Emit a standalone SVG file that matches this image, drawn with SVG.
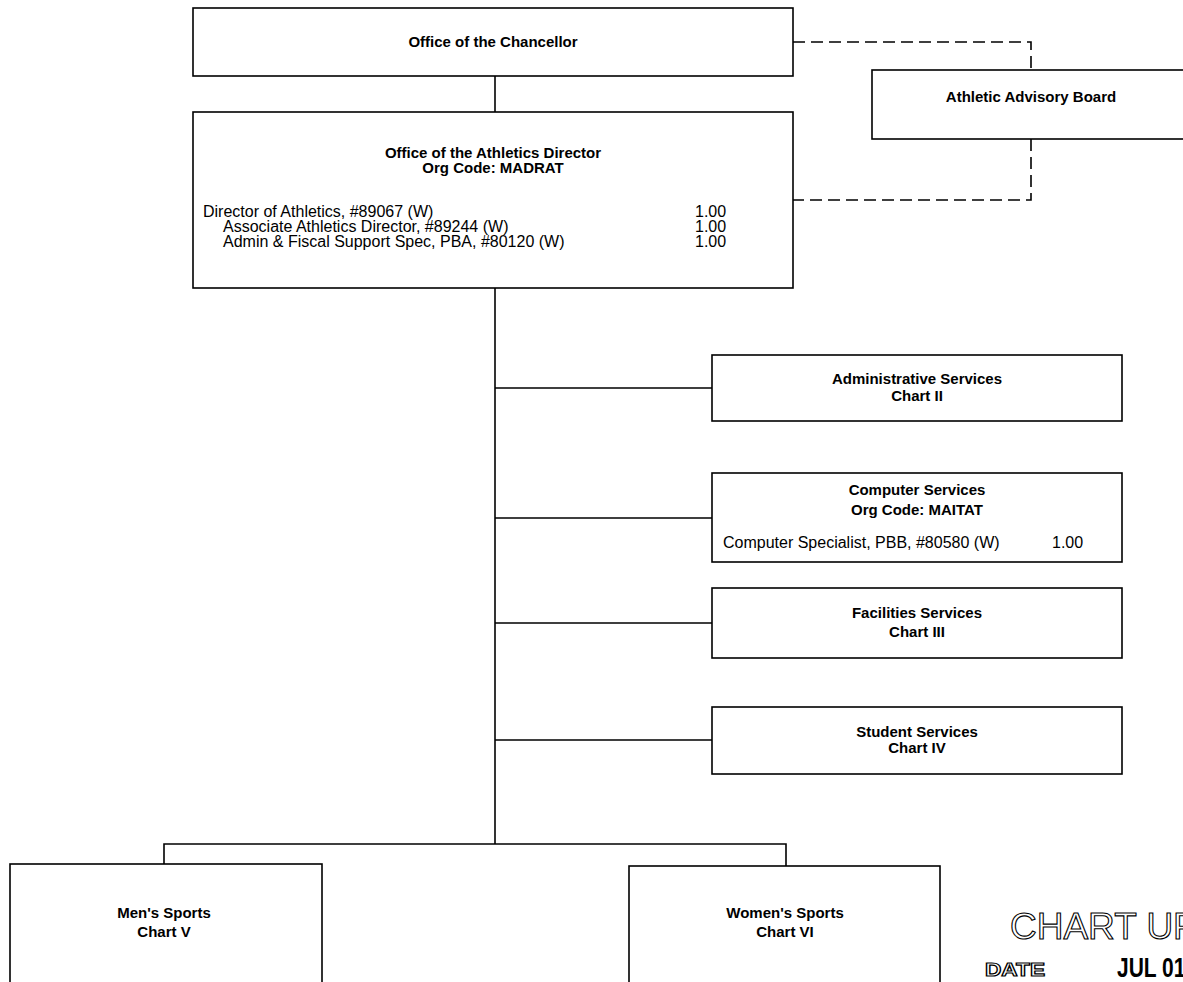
<svg xmlns="http://www.w3.org/2000/svg" width="1183" height="982" viewBox="0 0 1183 982">
<style>
.box{fill:#fff;stroke:#000;stroke-width:1.6}
.t{font-family:"Liberation Sans",Arial,sans-serif;font-size:15px;font-weight:bold;fill:#000;text-anchor:middle}
.l{font-family:"Liberation Sans",Arial,sans-serif;font-size:16px;fill:#000}
.ln{fill:none;stroke:#000;stroke-width:1.6}
.dash{fill:none;stroke:#000;stroke-width:1.6;stroke-dasharray:12 6}
.stamp{font-family:"Liberation Sans",Arial,sans-serif}
</style>
<rect width="1183" height="982" fill="#fff"/>
<g id="connectors">
<path class="ln" d="M495,76 V112"/>
<path class="ln" d="M495,288 V844"/>
<path class="ln" d="M495,388 H712 M495,518 H712 M495,623 H712 M495,740 H712"/>
<path class="ln" d="M164,864 V844 H786 V866"/>
<path class="dash" d="M793,42 H1031 V70"/>
<path class="dash" d="M1031,139 V200 H793"/>
</g>
<g id="chancellor">
<rect class="box" x="193" y="8" width="600" height="68"/>
<text class="t" x="493" y="47">Office of the Chancellor</text>
</g>
<g id="director">
<rect class="box" x="193" y="112" width="600" height="176"/>
<text class="t" x="493" y="158">Office of the Athletics Director</text>
<text class="t" x="493" y="173">Org Code: MADRAT</text>
<text class="l" x="203" y="217">Director of Athletics, #89067 (W)</text>
<text class="l" x="223" y="232">Associate Athletics Director, #89244 (W)</text>
<text class="l" x="223" y="247">Admin &amp; Fiscal Support Spec, PBA, #80120 (W)</text>
<text class="l" x="695" y="217">1.00</text>
<text class="l" x="695" y="232">1.00</text>
<text class="l" x="695" y="247">1.00</text>
</g>
<g id="advisory">
<rect class="box" x="872" y="70" width="320" height="69"/>
<text class="t" x="1031" y="102">Athletic Advisory Board</text>
</g>
<g id="admin">
<rect class="box" x="712" y="355" width="410" height="66"/>
<text class="t" x="917" y="384">Administrative Services</text>
<text class="t" x="917" y="401">Chart II</text>
</g>
<g id="computer">
<rect class="box" x="712" y="473" width="410" height="89"/>
<text class="t" x="917" y="495">Computer Services</text>
<text class="t" x="917" y="515">Org Code: MAITAT</text>
<text class="l" x="723" y="548">Computer Specialist, PBB, #80580 (W)</text>
<text class="l" x="1052" y="548">1.00</text>
</g>
<g id="facilities">
<rect class="box" x="712" y="588" width="410" height="70"/>
<text class="t" x="917" y="618">Facilities Services</text>
<text class="t" x="917" y="637">Chart III</text>
</g>
<g id="student">
<rect class="box" x="712" y="707" width="410" height="67"/>
<text class="t" x="917" y="737">Student Services</text>
<text class="t" x="917" y="753">Chart IV</text>
</g>
<g id="mens">
<rect class="box" x="10" y="864" width="312" height="125"/>
<text class="t" x="164" y="918">Men's Sports</text>
<text class="t" x="164" y="937">Chart V</text>
</g>
<g id="womens">
<rect class="box" x="629" y="866" width="311" height="125"/>
<text class="t" x="785" y="918">Women's Sports</text>
<text class="t" x="785" y="937">Chart VI</text>
</g>
<g id="stamp">
<text class="stamp" x="1010" y="939" font-size="37" fill="#fff" stroke="#000" stroke-width="1.1">CHART UP</text>
<text class="stamp" x="985" y="976" font-size="19" font-weight="bold" fill="#fff" stroke="#000" stroke-width="1.2" textLength="60" lengthAdjust="spacingAndGlyphs">DATE</text>
<text class="stamp" transform="translate(1117,977) scale(0.75,1)" font-size="28" font-weight="bold" fill="#000">JUL 01</text>
</g>
</svg>
